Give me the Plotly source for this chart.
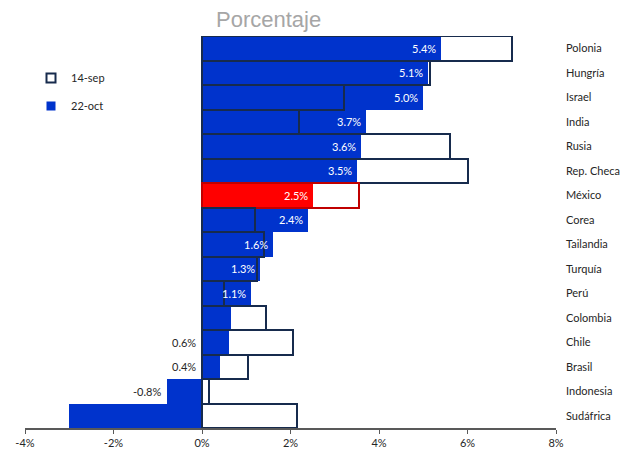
import plotly.graph_objects as go

# Countries, top to bottom
countries = ["Polonia", "Hungría", "Israel", "India", "Rusia", "Rep. Checa", "México",
             "Corea", "Tailandia", "Turquía", "Perú", "Colombia", "Chile", "Brasil",
             "Indonesia", "Sudáfrica"]
# Change in percent, 22-oct (filled bars)
oct22 = [5.4, 5.1, 5.0, 3.7, 3.6, 3.5, 2.5, 2.4, 1.6, 1.3, 1.1, 0.65, 0.6, 0.4, -0.8, -3.0]
# Change in percent, 14-sep (outlined bars)
sep14 = [7.0, 5.15, 3.2, 2.2, 5.6, 6.0, 3.55, 1.2, 1.4, 1.25, 0.5, 1.45, 2.05, 1.05, 0.15, 2.15]
# Which 22-oct values get a printed label, and where
label_inside = [True] * 11 + [False] * 5
label_left = [False] * 12 + [True, True, True, False]

x_ticks = [-4, -2, 0, 2, 4, 6, 8]

BLUE = "#0033cc"
NAVY = "#172b4d"
RED = "#ff0000"
DARK_RED = "#c00000"
FONT = "Lato"

W, H = 623, 451
M = dict(l=25, r=67, t=36, b=23)
PW, PH = W - M["l"] - M["r"], H - M["t"] - M["b"]

fill_colors = [RED if c == "México" else BLUE for c in countries]
outline_colors = [DARK_RED if c == "México" else NAVY for c in countries]

fig = go.Figure()

# 14-sep white body (under the 22-oct bars)
fig.add_trace(go.Bar(
    y=countries, x=sep14, orientation="h",
    marker=dict(color="white", line=dict(width=0)),
    showlegend=False, hoverinfo="skip",
))
# 22-oct filled bars
fig.add_trace(go.Bar(
    y=countries, x=oct22, orientation="h",
    marker=dict(color=fill_colors, line=dict(width=0)),
    showlegend=False, name="22-oct",
))
# 14-sep outline drawn on top
fig.add_trace(go.Bar(
    y=countries, x=sep14, orientation="h",
    marker=dict(color="rgba(0,0,0,0)", line=dict(width=2, color=outline_colors)),
    showlegend=False, name="14-sep",
))

# Legend entries
fig.add_trace(go.Scatter(
    x=[None], y=[None], mode="markers", name="14-sep", legendgroup="a",
    marker=dict(symbol="square", size=9, color="white", line=dict(width=2, color=NAVY)),
))
fig.add_trace(go.Scatter(
    x=[None], y=[None], mode="markers", name="22-oct", legendgroup="b",
    marker=dict(symbol="square", size=9, color=BLUE, line=dict(width=0)),
))

annotations = []
for c, v, ins, left in zip(countries, oct22, label_inside, label_left):
    txt = f"{v:.1f}%"
    if ins:
        annotations.append(dict(x=v, y=c, xref="x", yref="y", text=txt, showarrow=False,
                                xanchor="right", xshift=-3,
                                font=dict(family=FONT, size=11, color="white")))
    elif left:
        annotations.append(dict(x=min(0, v), y=c, xref="x", yref="y", text=txt, showarrow=False,
                                xanchor="right", xshift=-4,
                                font=dict(family=FONT, size=11, color="#262626")))

# Chart heading, placed in paper units from pixel positions
annotations.append(dict(x=(268 - M["l"]) / PW, y=(H - M["b"] - 20) / PH,
                        xref="paper", yref="paper", text="Porcentaje",
                        showarrow=False, xanchor="center", yanchor="middle",
                        font=dict(family="Liberation Sans", size=22, color="#a6a6a6")))

fig.update_layout(
    width=W, height=H,
    margin=M,
    paper_bgcolor="white", plot_bgcolor="white",
    barmode="overlay", bargap=0,
    font=dict(family=FONT, size=11, color="#262626"),
    showlegend=True,
    legend=dict(x=6 / PW, y=0.93, xanchor="left", yanchor="top", bgcolor="rgba(0,0,0,0)",
                tracegroupgap=9, font=dict(family=FONT, size=11, color="#262626")),
    annotations=annotations,
)

fig.update_xaxes(
    range=[-4, 8], tickvals=x_ticks, ticktext=[f"{t}%" for t in x_ticks],
    showgrid=False, zeroline=True, zerolinecolor="#595959", zerolinewidth=1,
    showline=True, linecolor="#595959", linewidth=1.5,
    ticks="outside", ticklen=4, tickcolor="#595959", tickwidth=1,
    tickfont=dict(family=FONT, size=11, color="#262626"),
    automargin=False,
)
fig.update_yaxes(
    side="right", autorange="reversed", showgrid=False, showline=False,
    ticks="", ticklabelstandoff=9, automargin=False,
    tickfont=dict(family=FONT, size=11, color="#262626"),
)

fig.write_html("out.html")
